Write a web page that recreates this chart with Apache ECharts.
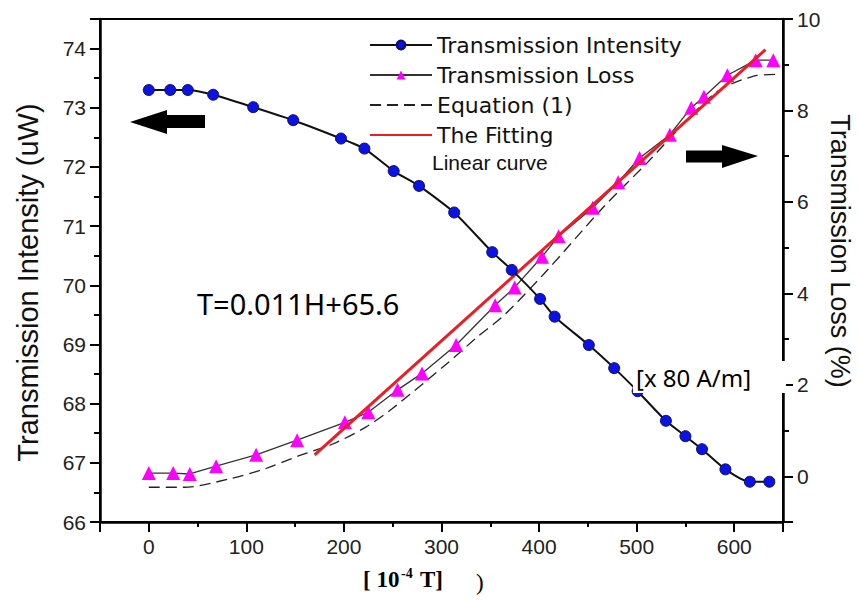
<!DOCTYPE html>
<html>
<head>
<meta charset="utf-8">
<script src="https://cdn.jsdelivr.net/npm/echarts@6/dist/echarts.min.js"></script>
<style>
  html, body { margin: 0; padding: 0; background: #fff; }
  #chart { width: 858px; height: 601px; }
</style>
</head>
<body>
<div id="chart"></div>
<script>
// 透射强度 (左轴)
const intensityX = [0, 22, 40, 66, 107, 148, 197, 221, 251, 277, 313, 352, 372, 401, 416, 451, 477, 501, 530, 550, 567, 591, 616, 636]
const intensityY = [73.30, 73.30, 73.30, 73.22, 73.01, 72.79, 72.48, 72.31, 71.93, 71.68, 71.23, 70.56, 70.26, 69.77, 69.47, 68.99, 68.60, 68.21, 67.71, 67.45, 67.23, 66.89, 66.68, 66.68]
// 透射损耗 (右轴)
const lossX = [0, 25, 42, 69, 110, 152, 201, 225, 255, 280, 315, 355, 375, 403, 420, 455, 481, 503, 534, 556, 569, 593, 622, 640]
const lossY = [0.07, 0.07, 0.05, 0.22, 0.47, 0.79, 1.18, 1.40, 1.89, 2.25, 2.87, 3.74, 4.13, 4.80, 5.25, 5.87, 6.43, 6.96, 7.47, 8.06, 8.30, 8.77, 9.10, 9.10]
// Equation (1)
const eqX = [0, 36, 82, 120, 154, 188, 222, 249, 307, 338, 365, 406, 467, 511, 549, 583, 620, 644]
const eqY = [-0.24, -0.24, -0.06, 0.17, 0.45, 0.70, 1.07, 1.47, 2.49, 3.07, 3.54, 4.45, 5.91, 6.86, 7.73, 8.42, 8.75, 8.79]
// 线性拟合
const fitX = [170, 632]
const fitY = [0.47, 9.33]

const fitName = 'The Fitting Linear curve'
const pairs = (xs, ys) => xs.map((x, i) => [x, ys[i]])

const chart = echarts.init(document.getElementById('chart'), null, { renderer: 'svg' })

const labelStyle = { color: '#222', fontFamily: 'Liberation Sans', fontSize: 21 }
const axisLineStyle = { onZero: false, show: true, lineStyle: { color: '#000', width: 2.5 } }

const option = {
    animation: false,
    grid: {
        left: 100,
        right: 75,
        top: 19,
        bottom: 79,
        outerBoundsMode: 'none',
        show: true,
        borderColor: '#000',
        borderWidth: 2
    },
    legend: {
        orient: 'vertical',
        left: 364,
        top: 27,
        itemWidth: 62,
        itemHeight: 11,
        itemGap: 4,
        textStyle: { fontFamily: 'DejaVu Sans', fontSize: 22, color: '#111', lineHeight: 26 },
        data: [
            { name: 'Transmission Intensity' },
            { name: 'Transmission Loss' },
            { name: 'Equation (1)', itemStyle: { opacity: 0 } },
            { name: fitName, itemStyle: { opacity: 0 } }
        ],
        formatter: (n) => n === fitName ? 'The Fitting' : n
    },
    xAxis: {
        type: 'value',
        min: -50,
        max: 650,
        splitNumber: 7,
        splitLine: { show: false },
        axisLine: axisLineStyle,
        axisTick: { length: 10, lineStyle: { color: '#000', width: 2 } },
        minorTick: { show: true, splitNumber: 2, length: 5, lineStyle: { color: '#000', width: 2 } },
        axisLabel: Object.assign({}, labelStyle, {
            margin: 14,
            formatter: (v) => (v >= 0 && v <= 600 && v % 100 === 0) ? String(v) : ''
        })
    },
    yAxis: [
        {
            type: 'value',
            position: 'left',
            min: 66,
            max: 74.5,
            interval: 1,
            splitLine: { show: false },
            axisLine: axisLineStyle,
            axisTick: { length: 10, lineStyle: { color: '#000', width: 2 } },
            minorTick: { show: true, splitNumber: 2, length: 6, lineStyle: { color: '#000', width: 2 } },
            axisLabel: Object.assign({}, labelStyle, {
                margin: 14,
                formatter: (v) => (Number.isInteger(v) && v <= 74) ? String(v) : ''
            }),
            name: 'Transmission Intensity (uW)',
            nameLocation: 'middle',
            nameGap: 58,
            nameTextStyle: { color: '#111', fontFamily: 'Liberation Sans', fontSize: 29, padding: [0, 24, 0, 0] }
        },
        {
            type: 'value',
            position: 'right',
            min: -1,
            max: 10,
            splitNumber: 5,
            splitLine: { show: false },
            axisLine: axisLineStyle,
            axisTick: { length: 10, lineStyle: { color: '#000', width: 2 } },
            minorTick: { show: true, splitNumber: 2, length: 6, lineStyle: { color: '#000', width: 2 } },
            axisLabel: Object.assign({}, labelStyle, {
                margin: 14,
                formatter: (v) => (v >= 0 && Math.abs(v % 2) < 1e-6) ? String(Math.round(v)) : ''
            })
        }
    ],
    series: [
        {
            name: 'Equation (1)',
            type: 'line',
            yAxisIndex: 1,
            smooth: 0.3,
            symbol: 'none',
            data: pairs(eqX, eqY),
            itemStyle: { color: '#222' },
            lineStyle: { color: '#222', width: 1.3, type: [11, 6] },
            z: 2
        },
        {
            name: 'Transmission Loss',
            type: 'line',
            yAxisIndex: 1,
            symbol: 'triangle',
            symbolSize: 14,
            data: pairs(lossX, lossY),
            itemStyle: { color: '#ff00ff' },
            lineStyle: { color: '#333', width: 1.3 },
            z: 3
        },
        {
            name: fitName,
            type: 'line',
            yAxisIndex: 1,
            symbol: 'none',
            data: pairs(fitX, fitY),
            itemStyle: { color: '#ee1c25' },
            lineStyle: { color: '#ee1c25', width: 3 },
            z: 4
        },
        {
            name: 'Transmission Intensity',
            type: 'line',
            yAxisIndex: 0,
            smooth: 0.2,
            symbol: 'circle',
            symbolSize: 11,
            data: pairs(intensityX, intensityY),
            itemStyle: { color: '#0a12e6', borderColor: '#10105a', borderWidth: 1 },
            lineStyle: { color: '#111', width: 2 },
            z: 5
        }
    ],
    graphic: [
        // 右轴名称 (竖排, 从上往下读)
        {
            type: 'text',
            x: 840,
            y: 251,
            rotation: -Math.PI / 2,
            style: {
                text: 'Transmission Loss (%)',
                fill: '#111',
                font: '27px "Liberation Sans"',
                align: 'center',
                verticalAlign: 'middle'
            }
        },
        // 左箭头
        {
            type: 'polygon',
            shape: { points: [[130, 122], [167, 110], [167, 115], [205, 115], [205, 128], [167, 128], [167, 134]] },
            style: { fill: '#000' }
        },
        // 右箭头
        {
            type: 'polygon',
            shape: { points: [[686, 150.5], [722, 150.5], [722, 145], [758, 156], [722, 168], [722, 162.5], [686, 162.5]] },
            style: { fill: '#000' }
        },
        {
            type: 'text',
            left: 432,
            top: 152,
            style: { text: 'Linear curve', fill: '#111', font: '21px "Liberation Sans"' }
        },
        {
            type: 'text',
            left: 197,
            top: 289,
            style: { text: 'T=0.011H+65.6', fill: '#000', font: '29px "Noto Sans"' }
        },
        // 单位说明框 (盖住右轴)
        {
            type: 'rect',
            z: 100,
            shape: { x: 633, y: 361, width: 153, height: 32 },
            style: { fill: '#fff' }
        },
        {
            type: 'text',
            z: 101,
            x: 636,
            y: 377,
            style: { text: '[x 80 A/m]', fill: '#000', font: '24px "Noto Sans"', verticalAlign: 'middle' }
        },
        // 横轴名称
        {
            type: 'text',
            x: 363,
            y: 579,
            style: { text: '[ 10', fill: '#000', font: 'bold 23px "Liberation Serif"', verticalAlign: 'middle' }
        },
        {
            type: 'text',
            x: 401,
            y: 566,
            style: { text: '-4', fill: '#000', font: 'bold 14px "Liberation Serif"', verticalAlign: 'top' }
        },
        {
            type: 'text',
            x: 420,
            y: 579,
            style: { text: 'T]', fill: '#000', font: 'bold 23px "Liberation Serif"', verticalAlign: 'middle' }
        },
        {
            type: 'text',
            x: 476,
            y: 582,
            style: { text: ')', fill: '#000', font: '23px "Liberation Serif"', verticalAlign: 'middle' }
        }
    ]
}

chart.setOption(option)
</script>
</body>
</html>
